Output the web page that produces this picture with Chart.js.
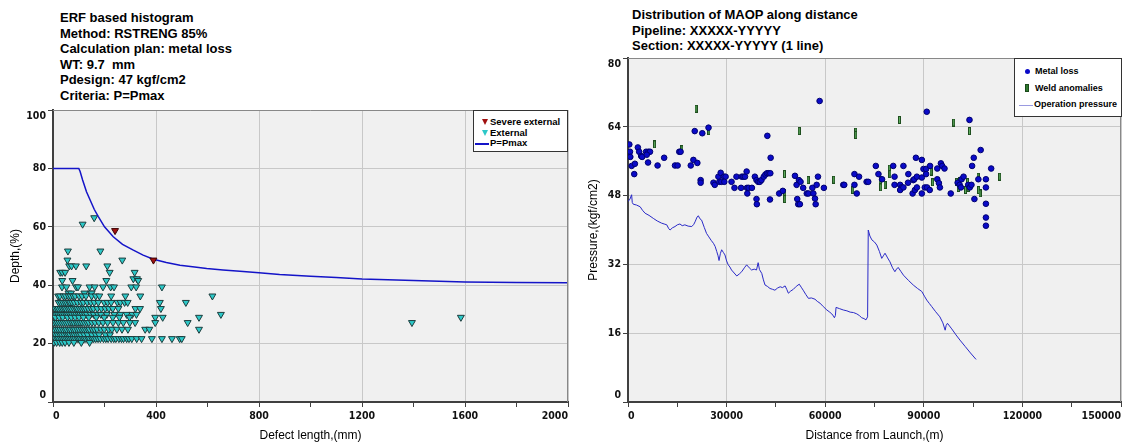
<!DOCTYPE html>
<html>
<head>
<meta charset="utf-8">
<script src="https://cdn.jsdelivr.net/npm/chart.js@4.4.0/dist/chart.umd.min.js"></script>
<style>
    body { margin: 0; background: #fff; width: 1123px; height: 443px; overflow: hidden; position: relative; font-family: 'Liberation Sans', Arial, sans-serif; }
    canvas { position: absolute; top: 0; }
    .title { position: absolute; font-weight: bold; font-size: 13px; line-height: 15.5px; color: #000; white-space: nowrap; }
    .legend { position: absolute; background: #fff; border: 1px solid #333; box-sizing: border-box; font-weight: bold; color: #000; white-space: nowrap; }
    .tri { display: inline-block; width: 0; height: 0; border-left: 3px solid transparent; border-right: 3px solid transparent; border-top: 6px solid; vertical-align: middle; margin: 0 2px 0 8px; }
    .dash { display: inline-block; width: 14px; border-top: 2px solid; vertical-align: middle; margin-right: 1px; }
</style>
</head>
<body>
<div class="title" style="left:60px; top:10px;">ERF based histogram<br>Method: RSTRENG 85%<br>Calculation plan: metal loss<br>WT: 9.7&nbsp; mm<br>Pdesign: 47 kgf/cm2<br>Criteria: P=Pmax</div>
<div class="title" style="left:632px; top:7px;">Distribution of MAOP along distance<br>Pipeline: XXXXX-YYYYY<br>Section: XXXXX-YYYYY (1 line)</div>

<canvas id="erfChart" width="580" height="443" style="left:0"></canvas>
<canvas id="maopChart" width="546" height="443" style="left:580px"></canvas>

<div class="legend" style="left:473px; top:110px; width:95px; height:42px; font-size:9.5px; line-height:10.7px; padding-top:6px;">
    <div><span class="tri" style="border-top-color:#a01010"></span>Severe external</div>
    <div><span class="tri" style="border-top-color:#2cc8c8"></span>External</div>
    <div><span class="dash" style="border-color:#1414c8; margin-left:1px"></span>P=Pmax</div>
</div>
<div class="legend" style="left:1014px; top:58px; width:108px; height:59px; font-size:9px; line-height:16.7px; padding-top:4px;">
    <div><span style="display:inline-block;width:5px;height:5px;border-radius:50%;background:#0a0ac8;margin:0 5px 1px 10px;vertical-align:middle"></span>Metal loss</div>
    <div><span style="display:inline-block;width:2px;height:6px;background:#2f7a2f;border:1px solid #1a4a1a;margin:0 6px 1px 10px;vertical-align:middle"></span>Weld anomalies</div>
    <div><span class="dash" style="border-color:#9a9ae0; border-top-width:1px; margin-left:4px"></span>Operation pressure</div>
</div>

<script>
// ---------- left chart: ERF histogram ----------
const severeExternal = [[241, 58.7], [390, 48.6]];

// rows of external defects: [depth %, [defect lengths mm]]
const externalRows = [
    [63.1, [160]],
    [60.9, [115]],
    [51.7, [58, 184]],
    [48.6, [56, 269]],
    [46.6, [63, 72, 89, 129, 211]],
    [44.4, [28, 36, 47, 220, 317]],
    [42.2, [312, 326]],
    [41.6, [36, 76, 207, 331]],
    [39.4, [35, 52, 90, 97, 142, 162, 194, 224, 237, 304, 323, 423]],
    [37.3, [60, 70, 122, 146, 150]],
    [36.3, [20, 27, 41, 49, 60, 68, 78, 86, 101, 113, 128, 150, 166, 180, 226, 281, 339, 619]],
    [34.1, [22, 30, 38, 46, 53, 61, 66, 74, 83, 95, 108, 118, 133, 147, 160, 176, 199, 212, 226, 250, 262, 278, 290, 415, 516]],
    [32.0, [8, 15, 21, 29, 36, 43, 49, 57, 64, 71, 80, 88, 94, 103, 111, 119, 127, 137, 148, 157, 172, 188, 203, 217, 232, 254, 320, 338, 419]],
    [30.0, [5, 12, 19, 27, 34, 42, 50, 57, 65, 73, 82, 90, 99, 106, 114, 123, 131, 146, 158, 174, 186, 209, 238, 261, 286, 308, 324, 652]],
    [29.0, [9, 24, 38, 56, 71, 86, 101, 118, 139, 168, 199, 232, 258, 297, 397, 426, 567, 1584]],
    [27.2, [3, 10, 17, 25, 33, 41, 49, 57, 66, 74, 81, 90, 97, 105, 113, 122, 131, 139, 151, 163, 178, 194, 212, 233, 254, 273, 298, 319, 397, 523, 1394]],
    [24.9, [4, 12, 20, 28, 37, 45, 52, 61, 68, 77, 84, 93, 101, 110, 118, 126, 134, 141, 152, 161, 171, 186, 199, 216, 229, 248, 268, 291, 358, 374, 567]],
    [23.0, [3, 10, 18, 27, 34, 43, 52, 59, 66, 76, 83, 92, 100, 108, 121, 134, 151, 166, 179, 204, 221]],
    [21.7, [2, 9, 16, 22, 30, 37, 44, 51, 58, 65, 72, 79, 86, 94, 100, 107, 115, 121, 128, 136, 142, 151, 158, 166, 175, 184, 196, 205, 214, 226, 236, 244, 256, 266, 274, 286, 295, 306, 325, 344, 384, 423, 462, 492, 500]],
    [20.4, [4, 14, 26, 36, 47, 62, 81, 110, 142]]
];

const pmaxLength = [0, 100, 105, 115, 130, 145, 160, 176, 200, 234, 270, 312, 350, 390, 440, 493, 550, 597, 660, 726, 800, 880, 1000, 1100, 1200, 1400, 1600, 1800, 2000];
const pmaxDepth = [80, 80, 79, 76, 72, 69, 66, 63.5, 60, 56.6, 54, 52, 50.3, 48.9, 47.8, 46.8, 46.2, 45.7, 45.2, 44.8, 44.3, 43.7, 43.1, 42.6, 42.1, 41.6, 41.1, 40.9, 40.8];

// ---------- right chart: MAOP along distance ----------
const metalLoss = [
    [400, 59.9], [600, 58.2], [700, 57], [1100, 54.9], [2100, 55.4], [1900, 53], [3000, 59.2], [3400, 58.2], [4000, 57.2], [4300, 57],
    [5500, 58.2], [6200, 58.2], [6700, 58.2], [5700, 57.5], [6100, 55.7], [9000, 55], [11000, 56.8], [14300, 55], [15100, 55], [15600, 58.2],
    [16000, 58.2], [19100, 55], [19900, 56.3], [21100, 55.6], [20300, 63], [22600, 62.5], [24500, 63.8], [22100, 51.6], [22100, 51], [26000, 51],
    [26400, 50.5], [27500, 52.4], [28200, 53.3], [29200, 52.4], [29700, 52.4], [27800, 51.2], [28400, 51.2], [29300, 51.2], [31500, 51.2], [32400, 49.8],
    [33000, 52.4], [34600, 52.4], [35100, 52.4], [35600, 52.4], [34400, 49.8], [36200, 49.8], [36700, 49.8], [37700, 49.8], [36100, 53.6], [36300, 48.5],
    [38600, 52.4], [39100, 51.6], [39600, 51.2], [40100, 51.2], [40600, 51.6], [41300, 52.4], [41800, 52.9], [42300, 53.2], [42800, 53.2], [43300, 53.2],
    [39100, 47.2], [39200, 46], [42400, 61.9], [43400, 56.8], [43200, 47.1], [46000, 48.5], [47100, 49.1], [50800, 52.6], [51300, 50.5], [52000, 51.6],
    [52500, 51.2], [51500, 47.2], [51800, 46], [52300, 46], [53300, 49.8], [54400, 48.5], [54900, 48.5], [56100, 49.8], [56400, 48.5], [56900, 47.3],
    [57100, 46], [57400, 50.5], [57800, 52.4], [58300, 70], [59600, 49.8], [65500, 50.5], [65800, 50.5], [68900, 53], [70300, 52.4], [68900, 50.5],
    [69600, 48.5], [72600, 51.2], [73100, 51.2], [75400, 54.9], [76200, 53], [77300, 51.8], [80700, 54.9], [81100, 52.4], [81100, 50.5], [82800, 50.5],
    [83300, 49.9], [82800, 49.3], [83800, 49.9], [83800, 54.9], [85300, 53], [85200, 51], [86800, 51.6], [87100, 51.8], [87900, 52.4], [86600, 48.5],
    [87300, 49.3], [87900, 49.9], [87600, 56.8], [89400, 56.3], [89900, 54.2], [90700, 54.2], [89400, 52.2], [90700, 53], [89400, 48.5], [90300, 49.9],
    [91000, 49.9], [91800, 49.3], [91900, 54.9], [90900, 67.5], [94100, 54.3], [95200, 55.5], [95600, 54.9], [96300, 54.3], [94100, 51.8], [94600, 50.9],
    [94900, 49.9], [98200, 48.5], [100300, 51], [100900, 50.5], [101500, 51.8], [102100, 52.4], [101300, 49.9], [103500, 50.5], [104000, 49.9], [104500, 50.5],
    [104700, 54.9], [105200, 56.8], [103900, 65.6], [106600, 51.8], [105400, 47.2], [107300, 58.6], [108900, 51.8], [108900, 49.9], [108900, 46.1], [108900, 42.9],
    [108900, 41], [110500, 54.3]
];

const weldAnomalies = [
    [8100, 59.9], [16400, 58.8], [20700, 68.2], [24600, 63], [47600, 53], [47700, 48.5], [47700, 47.2], [52100, 63], [54800, 51.6], [62600, 51.7],
    [68400, 49.3], [69300, 62.9], [69300, 62.1], [76700, 51.6], [76900, 49.9], [78200, 50.5], [79500, 54.3], [79700, 53], [82600, 65.6], [92200, 53.6],
    [92700, 51.1], [99100, 65], [100000, 51.2], [100500, 49.8], [101000, 51.3], [102700, 49.3], [103300, 51.1], [103500, 49.8], [103900, 63], [106500, 52.4],
    [106700, 49.3], [107100, 48.5], [113100, 52.4]
];

const operationPressure = [
    [0, 46.6], [600, 47.2], [1100, 48.2], [1300, 46.4], [1600, 46], [2600, 45.8], [3700, 45.4], [4400, 44.6], [5200, 43.9], [6400, 43.4],
    [7700, 42.7], [8900, 42.1], [10200, 41.6], [11000, 41.4], [11800, 41.2], [12400, 40.3], [12800, 40], [13500, 40.5], [14300, 40.8], [15000, 41.2],
    [15800, 41.4], [16500, 41], [17300, 41.2], [18300, 40.9], [19400, 40.8], [20000, 41.3], [20400, 41.9], [21000, 43], [21400, 43.3], [21900, 42.6],
    [22400, 42.3], [23200, 40.6], [23900, 39.2], [24600, 38.4], [25300, 37.6], [26000, 36.9], [26500, 36.2], [27000, 35], [27400, 34], [27700, 32.9],
    [28100, 34.5], [28500, 35.4], [29000, 34.8], [29500, 34.2], [30000, 32.8], [30500, 31.9], [31000, 31.4], [31500, 30.7], [32300, 30], [33100, 29.3],
    [33900, 29.8], [34600, 30.3], [35400, 31.2], [36100, 31.9], [36900, 31.2], [37600, 30.7], [38400, 30.9], [39100, 30.7], [39600, 32.4], [40000, 30.8],
    [40700, 29.9], [41200, 28.4], [41700, 27.2], [42400, 26.9], [43200, 26.4], [44000, 26.2], [44700, 26], [45500, 26.5], [46300, 26.8], [47000, 26.6],
    [47800, 27], [48300, 26.2], [48800, 25.3], [49500, 25.8], [50300, 26.2], [51200, 26.9], [52100, 27.4], [52700, 26.7], [53300, 26], [54100, 25],
    [54900, 24.1], [55800, 24.2], [56900, 23.9], [57600, 23.4], [58400, 23], [59400, 22.2], [60500, 21.4], [61200, 21], [62000, 20.5], [62500, 20],
    [62800, 19.6], [63100, 20.1], [63300, 22], [64400, 21.7], [65500, 21.4], [66600, 21.2], [67600, 20.9], [68600, 20.8], [69600, 20.5], [70400, 20.1],
    [71100, 19.6], [71800, 19.4], [72400, 19.1], [72900, 19.8], [73100, 40], [73600, 38.6], [74200, 37.7], [75000, 37.2], [75700, 36.5], [76500, 35],
    [77200, 33.4], [77700, 34], [78200, 34.6], [79000, 33.5], [79700, 32.6], [80500, 31.2], [81200, 30.3], [81700, 30.9], [82200, 31.3], [83000, 30.4],
    [83800, 29.5], [85300, 28.3], [86800, 27.2], [88100, 26.4], [89400, 25.7], [90200, 24.6], [90900, 23.7], [91700, 22.9], [92400, 22.2], [93600, 21],
    [94900, 19.8], [95800, 18.4], [96500, 16.7], [96800, 17.8], [97200, 18.3], [98500, 17], [99800, 15.6], [101000, 14.4], [102600, 12.9], [104200, 11.4],
    [105900, 9.9]
];

const toXY = arr => arr.map(p => ({ x: p[0], y: p[1] }));

const tickFont = { family: "'Liberation Sans Narrow', 'Arial Narrow', 'DejaVu Sans Condensed', sans-serif", size: 10.5, weight: 'bold' };
const axisTitleFont = { family: "'Liberation Sans', Arial, sans-serif", size: 12 };

// light grey plot background + thin frame on top / right
const plotFrame = {
    id: 'plotFrame',
    beforeDraw(chart) {
        const { ctx, chartArea: a } = chart;
        ctx.save();
        ctx.fillStyle = '#f0f0f0';
        ctx.fillRect(a.left, a.top, a.right - a.left, a.bottom - a.top);
        ctx.restore();
    },
    afterDraw(chart) {
        const { ctx, chartArea: a } = chart;
        ctx.save();
        ctx.strokeStyle = '#888';
        ctx.lineWidth = 1;
        ctx.beginPath();
        ctx.moveTo(a.left, a.top + 0.5);
        ctx.lineTo(a.right - 0.5, a.top + 0.5);
        ctx.lineTo(a.right - 0.5, a.bottom);
        ctx.stroke();
        ctx.restore();
    }
};

function axisX(max, step, major, title, height) {
    return {
        type: 'linear', min: 0, max: max,
        afterFit: s => { s.height = height; },
        border: { display: true, color: '#404040', width: 2 },
        grid: {
            color: c => (c.tick && c.tick.value % major === 0 && c.tick.value > 0) ? '#c8c8c8' : 'rgba(0,0,0,0)',
            tickColor: '#404040', tickLength: 5
        },
        ticks: {
            stepSize: step, autoSkip: false, maxRotation: 0, align: 'inner', padding: 3,
            color: '#111', font: tickFont,
            callback: v => v % major === 0 ? String(v) : ''
        },
        title: { display: true, text: title, color: '#000', font: axisTitleFont, padding: { top: 0, bottom: 0 } }
    };
}

// top label pushed down, bottom label pushed up (two-line trick)
function axisY(max, step, title, width, titlePad) {
    return {
        type: 'linear', min: 0, max: max,
        afterFit: s => { s.width = width; },
        border: { display: true, color: '#404040', width: 2 },
        grid: {
            color: c => (c.tick && c.tick.value > 0 && c.tick.value < max) ? '#c8c8c8' : 'rgba(0,0,0,0)',
            tickColor: '#404040', tickLength: 5
        },
        ticks: {
            stepSize: step, autoSkip: false, padding: 2, color: '#111', font: tickFont,
            callback: v => v === max ? ['', String(v)] : v === 0 ? ['0', ''] : String(v)
        },
        title: { display: true, text: title, color: '#000', font: axisTitleFont, padding: { top: titlePad, bottom: 0 } }
    };
}

const externalPts = [];
externalRows.forEach(([depth, lengths]) => lengths.forEach(len => externalPts.push({ x: len, y: depth })));

new Chart(document.getElementById('erfChart'), {
    type: 'scatter',
    data: {
        datasets: [
            {
                label: 'Severe external',
                data: toXY(severeExternal),
                pointStyle: 'triangle', rotation: 180, pointRadius: 4,
                backgroundColor: '#a01010', borderColor: '#3a0000', borderWidth: 1,
                order: 0
            },
            {
                label: 'External',
                data: externalPts,
                pointStyle: 'triangle', rotation: 180, pointRadius: 4,
                backgroundColor: '#2cc8c8', borderColor: '#1c3c3c', borderWidth: 1,
                order: 2
            },
            {
                label: 'P=Pmax',
                data: pmaxLength.map((l, i) => ({ x: l, y: pmaxDepth[i] })),
                showLine: true, pointRadius: 0,
                borderColor: '#1414c8', borderWidth: 1.5,
                order: 1
            }
        ]
    },
    options: {
        responsive: false,
        animation: false,
        layout: { padding: { top: 110, right: 12, left: 0, bottom: 0 } },
        plugins: { legend: { display: false }, tooltip: { enabled: false } },
        scales: {
            x: axisX(2000, 200, 400, 'Defect length,(mm)', 41),
            y: axisY(100, 20, 'Depth,(%)', 53, 8)
        }
    },
    plugins: [plotFrame]
});

const weldMark = document.createElement('canvas');
weldMark.width = 3;
weldMark.height = 8;
const wctx = weldMark.getContext('2d');
wctx.fillStyle = '#1e4e1e';
wctx.fillRect(0, 0, 3, 8);
wctx.fillStyle = '#5fae5f';
wctx.fillRect(1, 1, 1, 6);

new Chart(document.getElementById('maopChart'), {
    type: 'scatter',
    data: {
        datasets: [
            {
                label: 'Metal loss',
                data: toXY(metalLoss),
                pointStyle: 'circle', pointRadius: 2.8,
                backgroundColor: '#0a0ac8', borderColor: '#000070', borderWidth: 1,
                order: 0
            },
            {
                label: 'Weld anomalies',
                data: toXY(weldAnomalies),
                pointStyle: weldMark,
                order: 1
            },
            {
                label: 'Operation pressure',
                data: toXY(operationPressure),
                showLine: true, pointRadius: 0,
                borderColor: '#2a2ac8', borderWidth: 1,
                order: 2
            }
        ]
    },
    options: {
        responsive: false,
        animation: false,
        layout: { padding: { top: 58, right: 2, left: 0, bottom: 0 } },
        plugins: { legend: { display: false }, tooltip: { enabled: false } },
        scales: {
            x: axisX(150000, 15000, 30000, 'Distance from Launch,(m)', 41),
            y: axisY(80, 16, 'Pressure,(kgf/cm2)', 48, 6)
        }
    },
    plugins: [plotFrame]
});
</script>
</body>
</html>
